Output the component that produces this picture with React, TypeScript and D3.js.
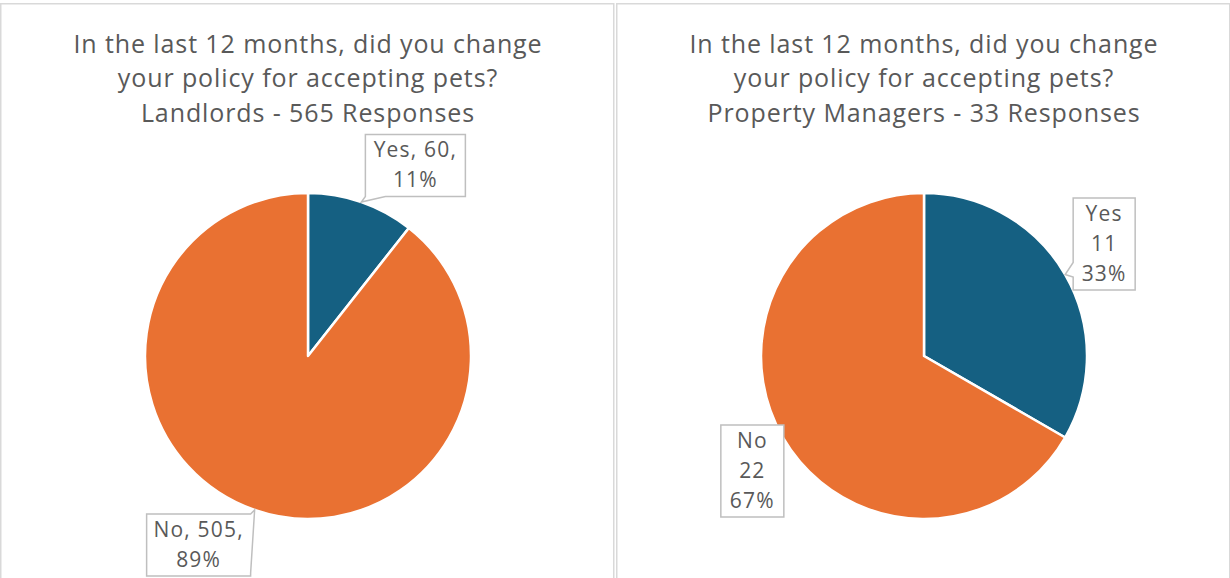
import React from 'react';
import * as d3 from 'd3';

// data
const categories = ['Yes', 'No'];
const landlordValues = [60, 505];
const managerValues = [11, 22];
const landlordTitle = ['In the last 12 months, did you change', 'your policy for accepting pets?', 'Landlords - 565 Responses'];
const managerTitle = ['In the last 12 months, did you change', 'your policy for accepting pets?', 'Property Managers - 33 Responses'];
const colors = ['#156082', '#E97132'];

const W = 1230;
const H = 578;
const panelW = 614;
const radius = 163;
const textColor = '#595959';
const font = '"Open Sans", "DejaVu Sans", sans-serif';

type LabelCfg = {
  dx: number; dy: number; w: number;
  side: 'top' | 'right' | 'bottom' | 'left' | null;
  from: number; to: number;
};

// label box placement relative to the slice edge point
const landlordLabels: LabelCfg[] = [
  { dx: 54, dy: -36.5, w: 100, side: 'bottom', from: 0, to: 0.2 },
  { dx: -56, dy: 35, w: 104, side: 'right', from: 0, to: 0.95 },
];
const managerLabels: LabelCfg[] = [
  { dx: 39, dy: -30.5, w: 62, side: 'left', from: 0.7, to: 0.86 },
  { dx: -30.5, dy: 33.5, w: 63, side: null, from: 0, to: 0 },
];

function calloutPath(x0: number, y0: number, w: number, h: number, tip: [number, number], c: LabelCfg) {
  const x1 = x0 + w, y1 = y0 + h;
  const p: [number, number][] = [];
  p.push([x0, y0]);
  if (c.side === 'top') p.push([x0 + c.from * w, y0], tip, [x0 + c.to * w, y0]);
  p.push([x1, y0]);
  if (c.side === 'right') p.push([x1, y0 + c.from * h], tip, [x1, y0 + c.to * h]);
  p.push([x1, y1]);
  if (c.side === 'bottom') p.push([x0 + c.to * w, y1], tip, [x0 + c.from * w, y1]);
  p.push([x0, y1]);
  if (c.side === 'left') p.push([x0, y0 + c.to * h], tip, [x0, y0 + c.from * h]);
  return 'M' + p.map(d => d.join(',')).join('L') + 'Z';
}

function PiePanel({ x0, values, title, labels, lines }: {
  x0: number; values: number[]; title: string[]; labels: LabelCfg[];
  lines: (cat: string, v: number, pct: string) => string[];
}) {
  const cx = x0 + panelW / 2 + 1;
  const cy = 356;
  const total = d3.sum(values);
  const arcs = d3.pie<number>().sort(null).value(d => d)(values);
  const arc = d3.arc<d3.PieArcDatum<number>>().innerRadius(0).outerRadius(radius);
  const fmt = d3.format('.0%');

  return (
    <g>
      <rect x={x0 + 0.75} y={3.75} width={panelW - 1} height={H + 20} fill="#fff" stroke="#d9d9d9" strokeWidth={1.5} />
      {title.map((t, i) => (
        <text key={i} x={cx} y={52.5 + i * 34.5} textAnchor="middle" fontSize={25} letterSpacing={0.9}
          fill={textColor} fontFamily={font}>{t}</text>
      ))}
      <g transform={`translate(${cx},${cy})`}>
        {arcs.map((a, i) => (
          <path key={i} d={arc(a) || ''} fill={colors[i]} stroke="#fff" strokeWidth={2.5} strokeLinejoin="round" />
        ))}
      </g>
      {arcs.map((a, i) => {
        const mid = (a.startAngle + a.endAngle) / 2;
        const tip: [number, number] = [cx + radius * Math.sin(mid), cy - radius * Math.cos(mid)];
        const cfg = labels[i];
        const txt = lines(categories[i], values[i], fmt(values[i] / total));
        const h = txt.length * 30 + 2;
        const bx = tip[0] + cfg.dx - cfg.w / 2;
        const by = tip[1] + cfg.dy - h / 2;
        return (
          <g key={'l' + i}>
            <path d={calloutPath(bx, by, cfg.w, h, tip, cfg)} fill="#fff" stroke="#bfbfbf" strokeWidth={1.5} />
            {txt.map((t, j) => (
              <text key={j} x={bx + cfg.w / 2} y={by + 23 + j * 30} textAnchor="middle" fontSize={21} letterSpacing={1.2}
                fill={textColor} fontFamily={font}>{t}</text>
            ))}
          </g>
        );
      })}
    </g>
  );
}

export default function App() {
  return (
    <svg width={W} height={H} style={{ position: 'absolute', left: 0, top: 0, background: '#fff' }}>
      <PiePanel x0={0} values={landlordValues} title={landlordTitle} labels={landlordLabels}
        lines={(c, v, p) => [`${c}, ${v},`, p]} />
      <PiePanel x0={616} values={managerValues} title={managerTitle} labels={managerLabels}
        lines={(c, v, p) => [c, String(v), p]} />
    </svg>
  );
}
